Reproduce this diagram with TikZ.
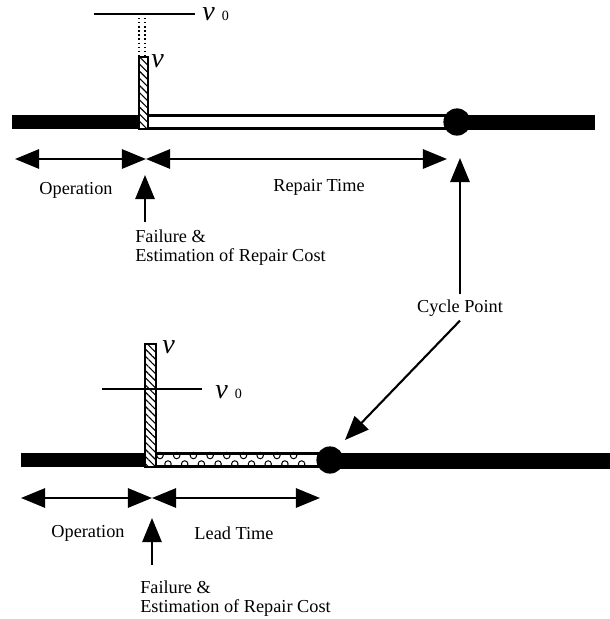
\documentclass[tikz,border=0pt]{standalone}
\usepackage{fontspec}
\setmainfont{Liberation Serif}
\usetikzlibrary{arrows.meta, positioning, patterns.meta}

\tikzset{
  txt/.style={font=\fontsize{13}{13}\selectfont, inner sep=0pt},
  vlab/.style={font=\fontsize{20}{20}\selectfont\itshape, inner sep=0pt},
  bigarrow/.style={line width=1.5pt, -{Triangle[length=0.6cm, width=0.48cm]}},
  twoway/.style={line width=1.5pt, {Triangle[length=0.6cm, width=0.48cm]}-{Triangle[length=0.6cm, width=0.48cm]}},
  cyclept/.style={circle, fill=black, inner sep=0pt, minimum size=0.68cm},
  hatchbar/.style={draw, line width=1pt, pattern={Lines[angle=-45, distance=3.6pt, line width=0.8pt]}},
  openbar/.style={draw, line width=1.5pt, fill=white}
}
\newcommand{\vzero}{\textit{v}\hspace{5pt}{\fontsize{10}{10}\upshape 0}}

\begin{document}
\begin{tikzpicture}[x=0.025cm, y=-0.025cm]
  \useasboundingbox (0,0) rectangle (610,619);

  % upper time line: repair
  \fill[black] (12,115) rectangle (139,129);
  \draw[openbar] (148,115.5) rectangle (452,128.5);
  \fill[black] (468,115) rectangle (595,130);
  \draw[hatchbar] (139,57) rectangle (148,129);
  \node[cyclept] (ctop) at (457,122) {};
  % threshold
  \draw[line width=1pt] (94,14) -- (195,14);
  \draw[dotted, line width=0.9pt] (139,14) -- (139,57);
  \draw[dotted, line width=0.9pt] (145,14) -- (145,57);
  \node[vlab, anchor=base west] (v0top) at (202,20) {\vzero};
  \node[vlab, anchor=base west] (vtop) at (151,67) {v};

  % upper intervals
  \coordinate (opL1) at (15,159);
  \coordinate (opR1) at (146,159);
  \coordinate (repR1) at (447,159);
  \draw[twoway] (opL1) -- (opR1);
  \draw[twoway] (opR1) -- (repR1);
  \node[txt] (optop) at (76,190) {Operation};
  \node[txt] (reptop) at (319,187) {Repair Time};
  \node[txt, anchor=north west, align=left] (failtop) at (135,230)
    {Failure \&\\Estimation of Repair Cost};
  \coordinate (fbase1) at (145,222);
  \coordinate (ftip1) at (145,175);
  \draw[bigarrow] (fbase1) -- (ftip1);

  % cycle point
  \node[txt] (cycle) at (460,308) {Cycle Point};
  \coordinate (ctip1) at (460,158);
  \coordinate (ctip2) at (345,440);
  \draw[bigarrow] (cycle.north) ++(0,-5) -- (ctip1);
  \draw[bigarrow] ([yshift=-0.1cm]cycle.south) -- (ctip2);

  % lower time line: lead
  \fill[black] (21,453) rectangle (146,467);
  \draw[openbar] (156,453.5) rectangle (322,466.5);
  \foreach \x in {160,176.7,...,310} {
    \draw[line width=0.7pt] (\x,455.5) circle (2.3pt);
  }
  \foreach \x in {168,184.7,...,318} {
    \draw[line width=0.7pt] (\x,464) circle (2.3pt);
  }
  \fill[black] (340,453) rectangle (610,469);
  \draw[hatchbar] (145,344) rectangle (156,467);
  \node[cyclept] (cbot) at (330,460) {};
  % threshold
  \draw[line width=1pt] (102,389) -- (202,389);
  \node[vlab, anchor=base west] (v0bot) at (215,398) {\vzero};
  \node[vlab, anchor=base west] (vbot) at (162,353) {v};

  % lower intervals
  \coordinate (opL2) at (21,498);
  \coordinate (opR2) at (152,498);
  \coordinate (leadR2) at (320,498);
  \draw[twoway] (opL2) -- (opR2);
  \draw[twoway] (opR2) -- (leadR2);
  \node[txt] (opbot) at (88,533) {Operation};
  \node[txt] (lead) at (234,533) {Lead Time};
  \node[txt, anchor=north west, align=left] (failbot) at (140,581)
    {Failure \&\\Estimation of Repair Cost};
  \coordinate (fbase2) at (152,565);
  \coordinate (ftip2) at (152,518);
  \draw[bigarrow] (fbase2) -- (ftip2);
\end{tikzpicture}
\end{document}
